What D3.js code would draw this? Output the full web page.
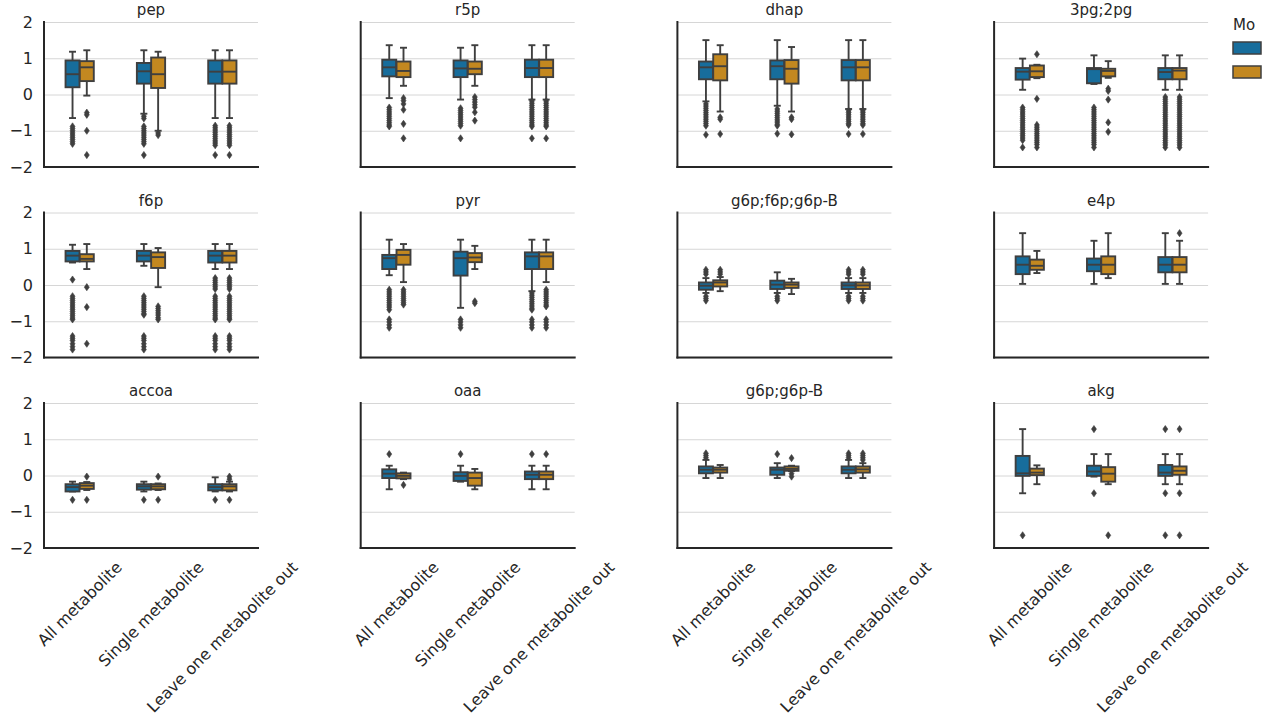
<!DOCTYPE html>
<html>
<head>
<meta charset="utf-8">
<script src="https://cdn.jsdelivr.net/npm/d3@7"></script>
<style>
  body { margin: 0; background: #fff; }
  svg { display: block; font-family: "DejaVu Sans", sans-serif; }
</style>
</head>
<body>
<svg id="chart" width="1265" height="719"></svg>
<script>
// Facet titles (one panel per metabolite), x categories and y ticks
const metabolites = ["pep", "r5p", "dhap", "3pg;2pg",
                     "f6p", "pyr", "g6p;f6p;g6p-B", "e4p",
                     "accoa", "oaa", "g6p;g6p-B", "akg"];
const strategies = ["All metabolite", "Single metabolite", "Leave one metabolite out"];
const yTicks = [-2, -1, 0, 1, 2];
const yTickLabels = ["\u22122", "\u22121", "0", "1", "2"];
const legendTitle = "Mo";

// Box statistics per metabolite; each row lists
// [All-blue, All-orange, Single-blue, Single-orange, LeaveOut-blue, LeaveOut-orange]
const whiskerLow = [
  [-0.65, -0.03, -0.53, -1.00, -0.65, -0.65],
  [-0.10, 0.24, -0.14, 0.24, -0.14, -0.14],
  [-0.19, -0.47, -0.31, -0.47, -0.40, -0.40],
  [0.13, 0.45, 0.29, 0.46, 0.13, 0.13],
  [0.62, 0.44, 0.53, -0.06, 0.44, 0.44],
  [0.27, 0.08, -0.63, 0.44, -0.17, 0.08],
  [-0.22, -0.17, -0.22, -0.25, -0.22, -0.22],
  [0.03, 0.33, 0.03, 0.19, 0.03, 0.03],
  [-0.44, -0.40, -0.44, -0.40, -0.44, -0.44],
  [-0.38, -0.10, -0.17, -0.38, -0.38, -0.38],
  [-0.07, -0.07, -0.07, 0.12, -0.07, -0.07],
  [-0.49, -0.24, -0.03, -0.24, -0.24, -0.24]
];
const q1 = [
  [0.20, 0.37, 0.30, 0.18, 0.30, 0.30],
  [0.50, 0.48, 0.48, 0.56, 0.48, 0.48],
  [0.42, 0.39, 0.42, 0.30, 0.39, 0.39],
  [0.41, 0.48, 0.31, 0.50, 0.42, 0.42],
  [0.65, 0.65, 0.65, 0.47, 0.62, 0.62],
  [0.44, 0.56, 0.26, 0.63, 0.44, 0.44],
  [-0.13, -0.04, -0.11, -0.08, -0.11, -0.11],
  [0.30, 0.42, 0.38, 0.30, 0.35, 0.35],
  [-0.44, -0.37, -0.39, -0.38, -0.41, -0.41],
  [-0.07, -0.08, -0.15, -0.28, -0.10, -0.10],
  [0.06, 0.08, 0.02, 0.13, 0.06, 0.08],
  [-0.01, 0.01, -0.01, -0.17, -0.01, 0.02]
];
const median = [
  [0.56, 0.75, 0.64, 0.56, 0.63, 0.63],
  [0.75, 0.65, 0.72, 0.71, 0.73, 0.73],
  [0.75, 0.78, 0.78, 0.71, 0.75, 0.75],
  [0.63, 0.64, 0.70, 0.65, 0.62, 0.66],
  [0.81, 0.72, 0.81, 0.77, 0.81, 0.81],
  [0.74, 0.83, 0.74, 0.76, 0.79, 0.79],
  [-0.02, 0.07, 0.01, 0.01, -0.01, -0.01],
  [0.56, 0.53, 0.56, 0.56, 0.56, 0.56],
  [-0.32, -0.28, -0.30, -0.30, -0.32, -0.30],
  [0.05, -0.01, -0.01, -0.07, 0.02, 0.02],
  [0.16, 0.16, 0.16, 0.18, 0.16, 0.17],
  [0.06, 0.08, 0.11, 0.05, 0.08, 0.13]
];
const q3 = [
  [0.94, 0.92, 0.87, 1.02, 0.94, 0.94],
  [0.96, 0.91, 0.94, 0.91, 0.96, 0.96],
  [0.91, 1.11, 0.94, 0.95, 0.95, 0.95],
  [0.73, 0.80, 0.73, 0.71, 0.73, 0.73],
  [0.94, 0.85, 0.94, 0.90, 0.94, 0.94],
  [0.83, 0.97, 0.92, 0.88, 0.90, 0.90],
  [0.07, 0.13, 0.12, 0.07, 0.07, 0.07],
  [0.79, 0.70, 0.73, 0.79, 0.77, 0.77],
  [-0.24, -0.21, -0.24, -0.24, -0.24, -0.24],
  [0.17, 0.06, 0.09, 0.08, 0.11, 0.11],
  [0.25, 0.22, 0.22, 0.25, 0.25, 0.25],
  [0.54, 0.19, 0.27, 0.23, 0.29, 0.25]
];
const whiskerHigh = [
  [1.18, 1.22, 1.22, 1.18, 1.22, 1.22],
  [1.36, 1.29, 1.29, 1.36, 1.36, 1.36],
  [1.50, 1.36, 1.50, 1.31, 1.50, 1.50],
  [0.99, 0.82, 1.08, 0.92, 1.08, 1.08],
  [1.11, 1.13, 1.13, 1.02, 1.13, 1.13],
  [1.25, 1.13, 1.25, 1.08, 1.25, 1.25],
  [0.19, 0.22, 0.35, 0.17, 0.19, 0.19],
  [1.43, 0.94, 1.22, 1.43, 1.43, 1.22],
  [-0.17, -0.18, -0.17, -0.22, -0.05, -0.17],
  [0.27, 0.08, 0.27, 0.18, 0.27, 0.27],
  [0.43, 0.29, 0.34, 0.27, 0.43, 0.34],
  [1.28, 0.28, 0.59, 0.59, 0.59, 0.59]
];
const outliers = [
  [ // pep
    [-0.88, -0.94, -1.0, -1.06, -1.12, -1.18, -1.24, -1.3, -1.36],
    [-0.5, -0.56, -1.0, -1.67],
    [-0.6, -0.66, -0.88, -0.94, -1.0, -1.06, -1.12, -1.18, -1.24, -1.3, -1.36, -1.67],
    [-1.06, -1.12],
    [-0.86, -0.92, -0.98, -1.04, -1.1, -1.16, -1.22, -1.28, -1.34, -1.4, -1.67],
    [-0.86, -0.92, -0.98, -1.04, -1.1, -1.16, -1.22, -1.28, -1.34, -1.4, -1.67]
  ],
  [ // r5p
    [-0.36, -0.42, -0.48, -0.54, -0.6, -0.66, -0.72, -0.78, -0.84, -0.88],
    [-0.1, -0.17, -0.26, -0.42, -0.81, -1.21],
    [-0.38, -0.44, -0.5, -0.56, -0.62, -0.68, -0.74, -0.8, -0.86, -1.21],
    [-0.07, -0.14, -0.21, -0.28, -0.35, -0.49, -0.72],
    [-0.18, -0.24, -0.3, -0.36, -0.42, -0.48, -0.54, -0.6, -0.66, -0.72, -0.78, -0.84, -0.88, -1.21],
    [-0.18, -0.24, -0.3, -0.36, -0.42, -0.48, -0.54, -0.6, -0.66, -0.72, -0.78, -0.84, -0.88, -1.21]
  ],
  [ // dhap
    [-0.26, -0.32, -0.38, -0.44, -0.5, -0.56, -0.62, -0.68, -0.74, -0.8, -0.86, -1.11],
    [-0.63, -0.68, -1.09],
    [-0.4, -0.46, -0.52, -0.58, -0.64, -0.7, -0.76, -0.82, -0.86, -1.08],
    [-0.63, -0.68, -1.1],
    [-0.45, -0.5, -0.56, -0.62, -0.68, -0.74, -0.8, -0.84, -1.09],
    [-0.45, -0.5, -0.56, -0.62, -0.68, -0.74, -0.8, -0.84, -1.09]
  ],
  [ // 3pg;2pg
    [-0.36, -0.42, -0.48, -0.54, -0.6, -0.66, -0.72, -0.78, -0.84, -0.9, -0.96, -1.02, -1.08, -1.14, -1.2, -1.26, -1.46],
    [1.11, -0.12, -0.84, -0.9, -0.96, -1.02, -1.08, -1.14, -1.2, -1.26, -1.32, -1.38, -1.46],
    [-0.36, -0.42, -0.48, -0.54, -0.6, -0.66, -0.72, -0.78, -0.84, -0.9, -0.96, -1.02, -1.08, -1.14, -1.2, -1.26, -1.32, -1.38, -1.46],
    [0.16, 0.1, -0.14, -0.77, -1.03],
    [-0.07, -0.13, -0.19, -0.25, -0.31, -0.37, -0.43, -0.49, -0.55, -0.61, -0.67, -0.73, -0.79, -0.85, -0.91, -0.97, -1.03, -1.09, -1.15, -1.21, -1.27, -1.33, -1.39, -1.46],
    [-0.07, -0.13, -0.19, -0.25, -0.31, -0.37, -0.43, -0.49, -0.55, -0.61, -0.67, -0.73, -0.79, -0.85, -0.91, -0.97, -1.03, -1.09, -1.15, -1.21, -1.27, -1.33, -1.39, -1.46]
  ],
  [ // f6p
    [0.15, -0.31, -0.37, -0.43, -0.49, -0.55, -0.61, -0.67, -0.73, -0.79, -0.85, -0.91, -0.95, -1.41, -1.47, -1.53, -1.62, -1.7, -1.78],
    [-0.06, -0.61, -1.62],
    [-0.31, -0.37, -0.43, -0.49, -0.55, -0.61, -0.67, -0.73, -0.79, -0.82, -1.41, -1.47, -1.53, -1.62, -1.7, -1.78],
    [-0.59, -0.65, -0.71, -0.77, -0.83, -0.9, -0.95],
    [0.19, 0.13, 0.07, 0.01, -0.05, -0.11, -0.31, -0.37, -0.43, -0.49, -0.55, -0.61, -0.67, -0.73, -0.79, -0.85, -0.91, -0.95, -1.41, -1.47, -1.53, -1.62, -1.7, -1.78],
    [0.19, 0.13, 0.07, 0.01, -0.05, -0.11, -0.31, -0.37, -0.43, -0.49, -0.55, -0.61, -0.67, -0.73, -0.79, -0.85, -0.91, -0.95, -1.41, -1.47, -1.53, -1.62, -1.7, -1.78]
  ],
  [ // pyr
    [-0.13, -0.19, -0.25, -0.31, -0.37, -0.43, -0.49, -0.55, -0.61, -0.68, -0.95, -1.02, -1.1, -1.18],
    [-0.13, -0.19, -0.25, -0.31, -0.37, -0.43, -0.49, -0.54],
    [-0.95, -1.02, -1.1, -1.18],
    [-0.45, -0.5],
    [-0.22, -0.28, -0.34, -0.4, -0.46, -0.52, -0.58, -0.64, -0.68, -0.95, -1.02, -1.1, -1.18],
    [-0.13, -0.19, -0.25, -0.31, -0.37, -0.43, -0.49, -0.55, -0.59, -0.95, -1.02, -1.1, -1.18]
  ],
  [ // g6p;f6p;g6p-B
    [0.42, 0.36, 0.3, -0.31, -0.37, -0.43],
    [0.42, 0.36, 0.3],
    [-0.31, -0.37, -0.43],
    [],
    [0.42, 0.36, 0.3, -0.31, -0.37, -0.43],
    [0.42, 0.36, 0.3, -0.31, -0.37, -0.43]
  ],
  [ // e4p
    [], [], [], [], [], [1.43]
  ],
  [ // accoa
    [-0.67], [-0.03, -0.67], [-0.67], [-0.03, -0.67], [-0.67], [-0.03, -0.1, -0.67]
  ],
  [ // oaa
    [0.59], [-0.26], [0.59], [], [0.59], [0.59]
  ],
  [ // g6p;g6p-B
    [0.61, 0.55, 0.49], [], [0.59], [0.48, 0.05, -0.03], [0.61, 0.55, 0.49], [0.61, 0.55, 0.49, 0.43]
  ],
  [ // akg
    [-1.65], [], [1.28, -0.49], [-1.65], [1.28, -0.49, -1.65], [1.28, -0.49, -1.65]
  ]
];

// ---- styling and layout ----
const hueColors = ["#176d9c", "#c38820"];
const edgeColor = "#3f3f3f";
const spineColor = "#262626";
const textColor = "#262626";
const gridColor = "#d6d6d6";

const left0 = 44, colStep = 316.7;
const top0 = 22, rowStep = 190.5;
const panelW = 214, panelH = 145;

const svg = d3.select("#chart");
svg.append("rect").attr("width", 1265).attr("height", 719).attr("fill", "#fff");

const y = d3.scaleLinear().domain([-2, 2]).range([panelH, 0]);
const x = d3.scaleBand().domain(strategies).range([0, panelW]).padding(0);
const hueOffset = d3.scaleLinear().domain([0, 1]).range([-0.1, 0.1]);
const boxW = x.bandwidth() * 0.2 * 0.98;

// thin diamond used for fliers
const diamond = "M0,-3.6L2.5,0L0,3.6L-2.5,0Z";

metabolites.forEach((name, m) => {
  const col = m % 4, row = Math.floor(m / 4);
  const g = svg.append("g")
    .attr("transform", `translate(${left0 + col * colStep},${top0 + row * rowStep})`);

  // horizontal grid
  g.append("g")
    .call(d3.axisLeft(y).tickValues(yTicks).tickSize(-panelW).tickFormat(""))
    .call(a => a.select(".domain").remove())
    .call(a => a.selectAll("line").attr("stroke", gridColor).attr("stroke-width", 1));

  // title
  g.append("text")
    .attr("x", panelW / 2).attr("y", -7)
    .attr("text-anchor", "middle")
    .attr("font-size", 15).attr("fill", textColor)
    .text(name);

  // boxes
  strategies.forEach((s, si) => {
    [0, 1].forEach(h => {
      const k = si * 2 + h;
      const cx = x(s) + x.bandwidth() / 2 + hueOffset(h) * x.bandwidth();
      const lo = whiskerLow[m][k], a = q1[m][k], md = median[m][k], b = q3[m][k], hi = whiskerHigh[m][k];
      const bg = g.append("g");
      const line = (x1, y1, x2, y2) => bg.append("line")
        .attr("x1", x1).attr("y1", y1).attr("x2", x2).attr("y2", y2)
        .attr("stroke", edgeColor).attr("stroke-width", 1.9);
      // whiskers and caps
      line(cx, y(b), cx, y(hi));
      line(cx, y(a), cx, y(lo));
      line(cx - boxW / 4, y(hi), cx + boxW / 4, y(hi));
      line(cx - boxW / 4, y(lo), cx + boxW / 4, y(lo));
      // box
      bg.append("rect")
        .attr("x", cx - boxW / 2).attr("y", y(b))
        .attr("width", boxW).attr("height", Math.max(0.5, y(a) - y(b)))
        .attr("fill", hueColors[h]).attr("stroke", edgeColor).attr("stroke-width", 1.9);
      // median
      line(cx - boxW / 2, y(md), cx + boxW / 2, y(md));
      // fliers
      bg.selectAll("path.flier").data(outliers[m][k]).join("path")
        .attr("class", "flier")
        .attr("d", diamond)
        .attr("transform", d => `translate(${cx},${y(d)})`)
        .attr("fill", edgeColor).attr("stroke", edgeColor).attr("stroke-width", 0.6);
    });
  });

  // spines
  g.append("line").attr("x1", 0).attr("x2", 0).attr("y1", 0).attr("y2", panelH)
    .attr("stroke", spineColor).attr("stroke-width", 2).attr("stroke-linecap", "square");
  g.append("line").attr("x1", 0).attr("x2", panelW).attr("y1", panelH).attr("y2", panelH)
    .attr("stroke", spineColor).attr("stroke-width", 2).attr("stroke-linecap", "square");

  // y tick labels on the first column
  if (col === 0) {
    g.append("g")
      .call(d3.axisLeft(y).tickValues(yTicks).tickSize(0).tickPadding(11)
        .tickFormat((d, i) => yTickLabels[i]))
      .call(a => a.select(".domain").remove())
      .call(a => a.selectAll("text").attr("font-size", 16).attr("fill", textColor)
        .attr("font-family", "DejaVu Sans, sans-serif"));
  }

  // rotated category labels on the bottom row
  if (row === 2) {
    strategies.forEach(s => {
      const t = g.append("text")
        .attr("text-anchor", "middle")
        .attr("dominant-baseline", "central")
        .attr("font-size", 16).attr("fill", textColor)
        .text(s);
      const L = t.node().getComputedTextLength();
      const half = (L + 18) * Math.SQRT1_2 / 2;
      const cx = x(s) + x.bandwidth() / 2;
      t.attr("transform", `translate(${cx},${panelH + 10 + half}) rotate(-45)`);
    });
  }
});

// legend at the right edge
const lg = svg.append("g").attr("transform", "translate(1233,0)");
lg.append("text").attr("x", 0).attr("y", 30)
  .attr("font-size", 15).attr("fill", textColor).text(legendTitle);
hueColors.forEach((c, i) => {
  lg.append("rect").attr("x", 0).attr("y", 42 + i * 24)
    .attr("width", 28).attr("height", 12)
    .attr("fill", c).attr("stroke", edgeColor).attr("stroke-width", 1.5);
});
</script>
</body>
</html>
